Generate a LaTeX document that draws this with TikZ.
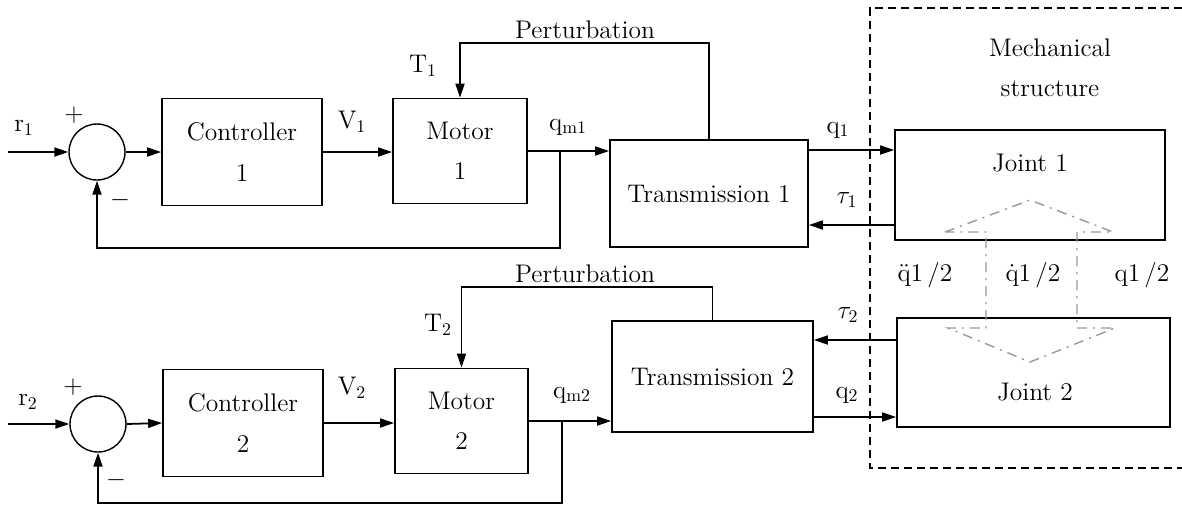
\RequirePackage{fix-cm}
\documentclass[tikz,border=0pt]{standalone}
\usepackage{amsmath}
\usetikzlibrary{arrows.meta,positioning,calc}

\begin{document}
\begin{tikzpicture}[
  x=0.02cm, y=-0.02cm,
  font=\fontsize{14.5}{23}\selectfont,
  blk/.style={draw, line width=1pt, align=center, inner sep=0pt},
  sumnode/.style={draw, circle, line width=0.8pt, minimum size=1.12cm, inner sep=0pt},
  arr/.style={-{Triangle[length=2.8mm, width=1.8mm]}, line width=1pt},
  lbl/.style={inner sep=1pt},
  mechbox/.style={line width=0.8pt, dash pattern=on 1.6mm off 1mm},
  linkarrow/.style={gray!80, line width=0.8pt, dash pattern=on 2mm off 1.2mm on 0.4mm off 1.2mm}
]
  \useasboundingbox (0,0) rectangle (1182,505);

  % Mechanical structure (open on the right)
  \draw[mechbox] (1182,8) -| (870,468) -- (1182,468);
  \node[lbl, align=center] (mechlbl) at (1050,68) {Mechanical\\structure};

  % Axis 1
  \node[sumnode] (sum1) at (97,152) {};
  \node[blk, minimum width=3.2cm, minimum height=2.14cm] (ctrl1) at (242,152) {Controller\\1};
  \node[blk, minimum width=2.68cm, minimum height=2.1cm] (mot1) at (460,151) {Motor\\1};
  \node[blk, minimum width=3.96cm, minimum height=2.14cm] (trans1) at (709,193.5) {Transmission 1};
  \node[blk, minimum width=5.4cm, minimum height=2.2cm] (joint1) at (1030,185) {};
  \node[lbl] (j1txt) at (1030,163) {Joint 1};

  % Axis 2
  \node[sumnode] (sum2) at (98,424) {};
  \node[blk, minimum width=3.2cm, minimum height=2.14cm] (ctrl2) at (243,423) {Controller\\2};
  \node[blk, minimum width=2.66cm, minimum height=2.1cm] (mot2) at (461.5,421) {Motor\\2};
  \node[blk, minimum width=4.02cm, minimum height=2.22cm] (trans2) at (712.5,376.5) {Transmission 2};
  \node[blk, minimum width=5.46cm, minimum height=2.18cm] (joint2) at (1033.5,372.5) {};
  \node[lbl] (j2txt) at (1035,392) {Joint 2};

  % helper points
  \coordinate (in1) at (8,152);
  \coordinate (in2) at (8,424);
  \coordinate (b1) at (560,151);
  \coordinate (b2) at (562,421);
  \coordinate (fb1) at (300,248);
  \coordinate (fb2) at (300,503);
  \coordinate (p1) at (585,43);
  \coordinate (p2) at (585,287);
  \coordinate (q1y) at (0,150);
  \coordinate (t1y) at (0,225);
  \coordinate (t2y) at (0,340);
  \coordinate (q2y) at (0,417);

  % loop 1
  \draw[arr] (in1) -- (sum1.west);
  \draw[arr] (sum1.east) -- (ctrl1.west);
  \draw[arr] (ctrl1.east) -- (ctrl1.east -| mot1.west);
  \draw[arr] (mot1.east) -- (mot1.east -| trans1.west);
  \draw[arr] (b1) |- (fb1) -| (sum1.south);
  \draw[arr] (trans1.north) |- (p1) -| (mot1.north);
  \draw[arr] (trans1.east |- q1y) -- (joint1.west |- q1y);
  \draw[arr] (joint1.west |- t1y) -- (trans1.east |- t1y);

  % loop 2
  \draw[arr] (in2) -- (sum2.west);
  \draw[arr] (sum2.east) -- (ctrl2.west);
  \draw[arr] (ctrl2.east) -- (ctrl2.east -| mot2.west);
  \draw[arr] (mot2.east) -- (mot2.east -| trans2.west);
  \draw[arr] (b2) |- (fb2) -| (sum2.south);
  \draw[arr] (trans2.north) |- (p2) -| (mot2.north);
  \draw[arr] (joint2.west |- t2y) -- (trans2.east |- t2y);
  \draw[arr] (trans2.east |- q2y) -- (joint2.west |- q2y);

  % coupling between the joints
  \draw[linkarrow] (945,232) -- (1030,200) -- (1113,232) -- (1077,232) -- (1077,328)
    -- (1115,328) -- (1030,362) -- (948,328) -- (986,328) -- (986,232) -- cycle;

  % labels
  \node[above=1pt of p1, lbl] (pert1) {Perturbation};
  \node[above=1pt of p2, lbl] (pert2) {Perturbation};
  \node[lbl] (r1lbl) at (24,128) {$\mathrm{r}_1$};
  \node[lbl] (plus1) at (74,115) {$+$};
  \node[lbl] (minus1) at (120,200) {$-$};
  \node[lbl] (v1lbl) at (352,122) {$\mathrm{V}_1$};
  \node[lbl] (tq1lbl) at (423,66) {$\mathrm{T}_1$};
  \node[lbl] (qm1lbl) at (568,127) {$\mathrm{q}_{\mathrm{m}1}$};
  \node[lbl] (q1lbl) at (838,130) {$\mathrm{q}_1$};
  \node[lbl] (tau1lbl) at (847,200) {$\tau_1$};
  \node[lbl] (r2lbl) at (28,402) {$\mathrm{r}_2$};
  \node[lbl] (plus2) at (73,387) {$+$};
  \node[lbl] (minus2) at (116,480) {$-$};
  \node[lbl] (v2lbl) at (352,388) {$\mathrm{V}_2$};
  \node[lbl] (tq2lbl) at (438,325) {$\mathrm{T}_2$};
  \node[lbl] (qm2lbl) at (572,395) {$\mathrm{q}_{\mathrm{m}2}$};
  \node[lbl] (tau2lbl) at (848,315) {$\tau_2$};
  \node[lbl] (q2lbl) at (847,395) {$\mathrm{q}_2$};
  \node[lbl] (accl) at (925,275) {$\ddot{\mathrm{q}}\mathrm{1}\,/\mathrm{2}$};
  \node[lbl] (vell) at (1033,275) {$\dot{\mathrm{q}}\mathrm{1}\,/\mathrm{2}$};
  \node[lbl] (posl) at (1142,275) {$\mathrm{q1}\,/\mathrm{2}$};
\end{tikzpicture}
\end{document}
